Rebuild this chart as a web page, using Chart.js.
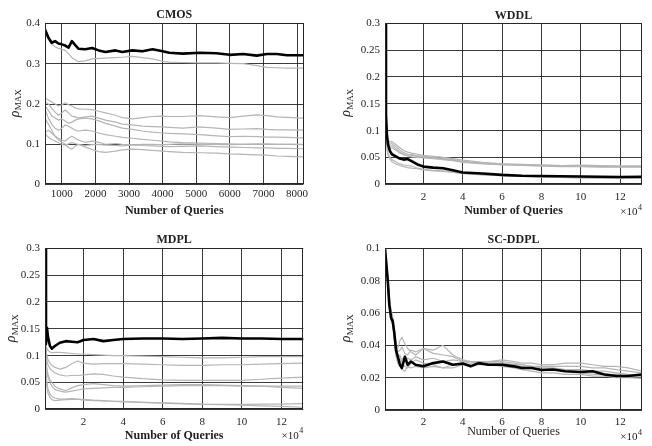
<!DOCTYPE html>
<html><head><meta charset="utf-8">
<script src="https://cdn.jsdelivr.net/npm/chart.js@4.4.1/dist/chart.umd.min.js"></script>
<style>
html,body{margin:0;padding:0;background:#fff;}
#wrap{position:relative;width:652px;height:446px;overflow:hidden;background:#fff;}
canvas{position:absolute;}
</style></head><body>
<div id="wrap">
<canvas id="c1" width="326" height="223" style="left:0;top:0"></canvas>
<canvas id="c2" width="326" height="223" style="left:326px;top:0"></canvas>
<canvas id="c3" width="326" height="223" style="left:0;top:223px"></canvas>
<canvas id="c4" width="326" height="223" style="left:326px;top:223px"></canvas>
</div>
<script>
// ---------------- DATA ----------------
// CMOS (x = number of queries)
const cmosQueries = [500,600,700,800,900,1000,1100,1200,1300,1400,1500,1700,1900,2100,2300,2600,2800,3100,3400,3700,4000,4200,4600,5100,5600,6000,6400,6800,7100,7400,7700,8192];
const cmosBlack = [0.385,0.365,0.352,0.356,0.350,0.348,0.345,0.340,0.356,0.346,0.337,0.336,0.339,0.333,0.329,0.333,0.329,0.333,0.331,0.336,0.331,0.327,0.325,0.327,0.326,0.322,0.324,0.320,0.324,0.324,0.321,0.321];
const cmosGray1 = [0.375,0.360,0.348,0.342,0.338,0.336,0.333,0.325,0.315,0.310,0.305,0.307,0.312,0.313,0.314,0.315,0.316,0.318,0.315,0.312,0.306,0.304,0.303,0.302,0.302,0.301,0.300,0.295,0.291,0.290,0.289,0.289];
const cmosGray2 = [0.215,0.210,0.205,0.200,0.195,0.198,0.203,0.198,0.195,0.190,0.188,0.187,0.186,0.182,0.178,0.172,0.166,0.163,0.166,0.169,0.170,0.169,0.169,0.171,0.168,0.166,0.170,0.173,0.171,0.168,0.167,0.165];
const cmosGray3 = [0.205,0.200,0.190,0.180,0.172,0.178,0.185,0.178,0.170,0.168,0.165,0.168,0.170,0.165,0.160,0.155,0.150,0.148,0.145,0.144,0.143,0.142,0.140,0.143,0.140,0.137,0.138,0.139,0.137,0.136,0.136,0.135];
const cmosGray4 = [0.195,0.185,0.170,0.165,0.160,0.163,0.158,0.152,0.155,0.160,0.163,0.165,0.163,0.158,0.152,0.145,0.140,0.137,0.133,0.130,0.128,0.127,0.126,0.124,0.121,0.119,0.120,0.119,0.118,0.118,0.117,0.116];
const cmosGray5 = [0.185,0.165,0.150,0.140,0.135,0.140,0.148,0.145,0.140,0.135,0.133,0.135,0.133,0.128,0.124,0.120,0.117,0.115,0.112,0.110,0.108,0.106,0.104,0.103,0.102,0.101,0.100,0.100,0.101,0.100,0.100,0.099];
const cmosGray6 = [0.165,0.150,0.135,0.120,0.115,0.110,0.108,0.115,0.120,0.115,0.110,0.105,0.108,0.105,0.100,0.102,0.100,0.099,0.097,0.096,0.095,0.094,0.095,0.096,0.094,0.093,0.092,0.091,0.091,0.090,0.090,0.089];
const cmosGray7 = [0.130,0.135,0.128,0.120,0.112,0.105,0.100,0.092,0.088,0.095,0.100,0.093,0.087,0.082,0.080,0.083,0.086,0.088,0.087,0.085,0.083,0.082,0.080,0.079,0.078,0.076,0.075,0.074,0.073,0.071,0.070,0.069];
const cmosGray8 = [0.125,0.118,0.112,0.108,0.104,0.100,0.098,0.101,0.104,0.102,0.099,0.097,0.099,0.100,0.098,0.097,0.096,0.098,0.100,0.100,0.099,0.100,0.101,0.100,0.100,0.099,0.100,0.101,0.100,0.100,0.100,0.100];
const cmosXTicks = [1000,2000,3000,4000,5000,6000,7000,8000];
const cmosYTicks = [0,0.1,0.2,0.3,0.4];

// WDDL (x = number of queries / 10^4)
const wddlQueries = [0.05,0.1,0.15,0.2,0.3,0.4,0.6,0.8,1.0,1.2,1.4,1.7,2,2.5,3,3.5,4,5,6,7,8,9,10,11,12,13.1072];
const wddlBlack = [0.300,0.130,0.090,0.075,0.062,0.056,0.052,0.048,0.046,0.047,0.043,0.037,0.033,0.031,0.030,0.026,0.022,0.020,0.0175,0.016,0.0155,0.015,0.0145,0.014,0.0135,0.014];
const wddlGray1 = [0.300,0.140,0.100,0.085,0.078,0.080,0.074,0.068,0.063,0.060,0.058,0.056,0.054,0.052,0.050,0.048,0.045,0.041,0.038,0.037,0.036,0.035,0.035,0.034,0.034,0.034];
const wddlGray2 = [0.300,0.130,0.095,0.080,0.074,0.076,0.070,0.064,0.059,0.056,0.054,0.053,0.052,0.050,0.048,0.046,0.043,0.039,0.037,0.036,0.035,0.034,0.034,0.033,0.033,0.033];
const wddlGray3 = [0.300,0.120,0.090,0.077,0.070,0.072,0.066,0.060,0.056,0.053,0.051,0.050,0.049,0.048,0.046,0.044,0.041,0.038,0.036,0.035,0.034,0.033,0.033,0.032,0.032,0.032];
const wddlGray4 = [0.300,0.125,0.092,0.080,0.066,0.068,0.064,0.058,0.055,0.054,0.056,0.052,0.050,0.049,0.047,0.045,0.042,0.040,0.038,0.036,0.036,0.035,0.036,0.035,0.034,0.034];
const wddlGray5 = [0.300,0.110,0.070,0.058,0.050,0.046,0.042,0.038,0.036,0.035,0.034,0.030,0.028,0.026,0.025,0.023,0.021,0.018,0.016,0.015,0.014,0.013,0.012,0.012,0.011,0.011];
const wddlGray6 = [0.300,0.100,0.065,0.055,0.047,0.042,0.038,0.035,0.033,0.031,0.030,0.029,0.027,0.025,0.024,0.022,0.020,0.0175,0.016,0.0145,0.0135,0.0128,0.012,0.0115,0.011,0.011];
const wddlYTicks = [0,0.05,0.1,0.15,0.2,0.25,0.3];

// MDPL (x = number of queries / 10^4)
const mdplQueries = [0.05,0.1,0.15,0.2,0.3,0.4,0.55,0.8,1.1,1.4,1.7,2,2.5,3,3.5,4,5,6,7,8,9,10,11,12,13.1072];
const mdplBlack = [0.300,0.122,0.152,0.135,0.118,0.113,0.118,0.124,0.127,0.126,0.125,0.129,0.131,0.127,0.129,0.131,0.132,0.132,0.131,0.132,0.133,0.132,0.132,0.131,0.131];
const mdplGray1 = [0.130,0.120,0.113,0.110,0.107,0.105,0.106,0.106,0.105,0.104,0.103,0.103,0.102,0.101,0.100,0.100,0.099,0.098,0.097,0.096,0.096,0.097,0.098,0.098,0.098];
const mdplGray2 = [0.125,0.110,0.100,0.092,0.086,0.082,0.078,0.075,0.078,0.085,0.090,0.086,0.084,0.085,0.085,0.085,0.084,0.083,0.082,0.082,0.083,0.083,0.084,0.085,0.086];
const mdplGray3 = [0.125,0.100,0.090,0.083,0.076,0.072,0.068,0.064,0.062,0.063,0.063,0.064,0.066,0.065,0.062,0.060,0.057,0.055,0.054,0.054,0.054,0.054,0.056,0.058,0.060];
const mdplGray4 = [0.120,0.090,0.075,0.065,0.055,0.050,0.043,0.038,0.035,0.040,0.044,0.046,0.048,0.046,0.044,0.043,0.044,0.045,0.046,0.046,0.045,0.044,0.043,0.041,0.039];
const mdplGray5 = [0.120,0.085,0.070,0.060,0.050,0.043,0.037,0.034,0.032,0.034,0.036,0.038,0.039,0.040,0.041,0.041,0.042,0.043,0.044,0.044,0.044,0.043,0.043,0.043,0.043];
const mdplGray6 = [0.115,0.070,0.050,0.038,0.028,0.024,0.021,0.019,0.019,0.020,0.019,0.017,0.016,0.0155,0.015,0.0138,0.013,0.012,0.011,0.0095,0.009,0.0092,0.0095,0.0098,0.0105];
const mdplGray7 = [0.110,0.060,0.040,0.030,0.022,0.018,0.016,0.017,0.018,0.0185,0.0185,0.0186,0.017,0.016,0.015,0.015,0.013,0.0115,0.010,0.009,0.0085,0.0075,0.0065,0.0055,0.0038];
const mdplYTicks = [0,0.05,0.1,0.15,0.2,0.25,0.3];

// SC-DDPL (x = number of queries / 10^4)
const scddplQueries = [0.05,0.12,0.19,0.27,0.36,0.44,0.52,0.61,0.7,0.81,0.91,1.06,1.2,1.37,1.6,2,2.5,3,3.5,4,4.4,4.8,5.3,6,6.6,7,7.5,8,8.6,9.2,10,10.6,11.2,11.8,12.4,13.1072];
const scddplBlack = [0.100,0.090,0.080,0.065,0.057,0.055,0.048,0.037,0.033,0.028,0.026,0.033,0.028,0.030,0.028,0.027,0.029,0.030,0.028,0.0287,0.027,0.029,0.028,0.028,0.027,0.026,0.026,0.0247,0.025,0.024,0.0235,0.024,0.022,0.021,0.021,0.022];
const scddplGray1 = [0.100,0.092,0.080,0.068,0.062,0.058,0.050,0.040,0.038,0.043,0.045,0.041,0.038,0.036,0.034,0.038,0.037,0.040,0.034,0.031,0.030,0.030,0.030,0.031,0.030,0.029,0.029,0.028,0.028,0.029,0.029,0.028,0.027,0.027,0.026,0.024];
const scddplGray2 = [0.100,0.090,0.083,0.070,0.060,0.056,0.048,0.042,0.036,0.037,0.039,0.035,0.034,0.037,0.036,0.038,0.035,0.034,0.033,0.030,0.030,0.029,0.030,0.030,0.029,0.028,0.027,0.027,0.027,0.027,0.027,0.026,0.026,0.025,0.024,0.023];
const scddplGray3 = [0.100,0.088,0.078,0.064,0.058,0.054,0.046,0.034,0.031,0.030,0.032,0.030,0.032,0.031,0.033,0.031,0.032,0.030,0.031,0.030,0.029,0.030,0.029,0.029,0.028,0.028,0.027,0.026,0.026,0.025,0.025,0.024,0.024,0.023,0.022,0.021];
const scddplGray4 = [0.100,0.090,0.076,0.063,0.055,0.053,0.044,0.033,0.029,0.027,0.025,0.024,0.027,0.026,0.027,0.026,0.027,0.026,0.026,0.028,0.027,0.028,0.028,0.027,0.026,0.025,0.024,0.023,0.023,0.022,0.022,0.021,0.021,0.020,0.020,0.0196];
const scddplGray5 = [0.100,0.091,0.081,0.066,0.056,0.054,0.046,0.036,0.032,0.034,0.029,0.027,0.026,0.029,0.031,0.029,0.028,0.026,0.028,0.029,0.028,0.029,0.029,0.029,0.028,0.027,0.026,0.025,0.025,0.024,0.023,0.022,0.022,0.022,0.021,0.021];
const scddplYTicks = [0,0.02,0.04,0.06,0.08,0.1];

const e4XTicks = [2,4,6,8,10,12];

// ---------------- RENDER ----------------
const SERIF = "'Liberation Serif','Times New Roman',serif";
const TXT = '#1f1f1f';
const GRID = 'rgba(25,25,25,0.85)';

function makePanel(id, p) {
  const toPts = arr => arr.map((y, i) => ({x: p.x[i], y}));
  const datasets = [{data: toPts(p.black), borderColor: '#000', borderWidth: 2.6}];
  p.grays.forEach(g => datasets.push({data: toPts(g), borderColor: '#b5b5b5', borderWidth: 1.2}));
  const L = p.layout;
  const textPlugin = {
    id: 'panelText' + id,
    afterDraw(chart) {
      const c = chart.ctx, a = chart.chartArea;
      c.save();
      c.strokeStyle = '#262626'; c.lineWidth = 1;
      c.strokeRect(Math.round(a.left) + 0.5, Math.round(a.top) + 0.5, Math.round(a.right - a.left) - 1, Math.round(a.bottom - a.top) - 1);
      c.fillStyle = TXT;
      c.textAlign = 'center'; c.textBaseline = 'middle';
      const cx = (a.left + a.right) / 2;
      c.font = 'bold 12px ' + SERIF;
      c.fillText(p.title, cx, L.titleY);
      c.font = (p.xlabelBold ? 'bold ' : '') + '12px ' + SERIF;
      c.fillText('Number of Queries', cx, L.xlabelY);
      // y label: rho_MAX
      c.save();
      c.translate(L.ylabX, L.ylabY);
      c.rotate(-Math.PI / 2);
      c.font = 'italic 14px ' + SERIF;
      const w1 = c.measureText('\u03C1').width;
      c.font = '9px ' + SERIF;
      const w2 = c.measureText('MAX').width;
      const s = -(w1 + w2) / 2;
      c.textAlign = 'left'; c.textBaseline = 'alphabetic';
      c.font = 'italic 14px ' + SERIF;
      c.fillText('\u03C1', s, 0);
      c.font = '9px ' + SERIF;
      c.fillText('MAX', s + w1 + 0.5, 2.5);
      c.restore();
      if (p.exp) {
        c.textAlign = 'right'; c.textBaseline = 'middle';
        c.font = '8px ' + SERIF;
        const w4 = c.measureText('4').width;
        c.fillText('4', a.right, L.expY - 4.5);
        c.font = '11px ' + SERIF;
        c.fillText('\u00D710', a.right - w4 - 0.5, L.expY);
      }
      c.restore();
    }
  };
  const tickFont = {family: SERIF, size: 11};
  new Chart(document.getElementById(id), {
    type: 'line',
    data: {datasets},
    options: {
      responsive: false, animation: false,
      events: [],
      layout: {padding: {left: 0, top: L.top, right: L.right, bottom: 0}},
      elements: {point: {radius: 0}, line: {tension: 0, borderJoinStyle: 'round', borderCapStyle: 'round'}},
      plugins: {legend: {display: false}, tooltip: {enabled: false}, title: {display: false}},
      scales: {
        x: {
          type: 'linear', min: p.xmin, max: p.xmax,
          afterBuildTicks: sc => { sc.ticks = p.xticks.map(v => ({value: v})); },
          afterFit: sc => { sc.height = L.xh; },
          ticks: {font: tickFont, color: TXT, padding: L.xpad, autoSkip: false, maxRotation: 0, callback: v => String(v)},
          grid: {color: GRID, lineWidth: 1, drawTicks: false},
          border: {display: false}
        },
        y: {
          type: 'linear', min: p.ymin, max: p.ymax,
          afterBuildTicks: sc => { sc.ticks = p.yticks.map(v => ({value: v})); },
          afterFit: sc => { sc.width = L.yw; },
          ticks: {font: tickFont, color: TXT, padding: 5, autoSkip: false, callback: v => String(v)},
          grid: {color: GRID, lineWidth: 1, drawTicks: false},
          border: {display: false}
        }
      }
    },
    plugins: [textPlugin]
  });
}

makePanel('c1', {
  title: 'CMOS', xlabelBold: true, exp: false,
  x: cmosQueries, black: cmosBlack,
  grays: [cmosGray1, cmosGray2, cmosGray3, cmosGray4, cmosGray5, cmosGray6, cmosGray7, cmosGray8],
  xmin: 500, xmax: 8192, ymin: 0, ymax: 0.4, xticks: cmosXTicks, yticks: cmosYTicks,
  layout: {top: 23.4, right: 326 - 303.5, yw: 45, xh: 223 - 184.6, xpad: 3, titleY: 15, xlabelY: 210.7, ylabX: 18.5, ylabY: 103.5}
});
makePanel('c2', {
  title: 'WDDL', xlabelBold: true, exp: true,
  x: wddlQueries, black: wddlBlack,
  grays: [wddlGray1, wddlGray2, wddlGray3, wddlGray4, wddlGray5, wddlGray6],
  xmin: 0.05, xmax: 13.1072, ymin: 0, ymax: 0.3, xticks: e4XTicks, yticks: wddlYTicks,
  layout: {top: 23.3, right: 10, yw: 59, xh: 223 - 184.3, xpad: 6, titleY: 15.7, xlabelY: 210.7, ylabX: 24, ylabY: 103, expY: 212}
});
makePanel('c3', {
  title: 'MDPL', xlabelBold: true, exp: true,
  x: mdplQueries, black: mdplBlack,
  grays: [mdplGray1, mdplGray2, mdplGray3, mdplGray4, mdplGray5, mdplGray6, mdplGray7],
  xmin: 0.05, xmax: 13.1072, ymin: 0, ymax: 0.3, xticks: e4XTicks, yticks: mdplYTicks,
  layout: {top: 25.3, right: 326 - 303.3, yw: 45, xh: 223 - 186.3, xpad: 6, titleY: 17, xlabelY: 212.7, ylabX: 15, ylabY: 105.5, expY: 212.7}
});
makePanel('c4', {
  title: 'SC-DDPL', xlabelBold: false, exp: true,
  x: scddplQueries, black: scddplBlack,
  grays: [scddplGray1, scddplGray2, scddplGray3, scddplGray4, scddplGray5],
  xmin: 0.05, xmax: 13.1072, ymin: 0, ymax: 0.1, xticks: e4XTicks, yticks: scddplYTicks,
  layout: {top: 25.3, right: 10, yw: 59, xh: 223 - 187, xpad: 6, titleY: 17, xlabelY: 208.5, ylabX: 24, ylabY: 105.5, expY: 214}
});
</script>
</body></html>
